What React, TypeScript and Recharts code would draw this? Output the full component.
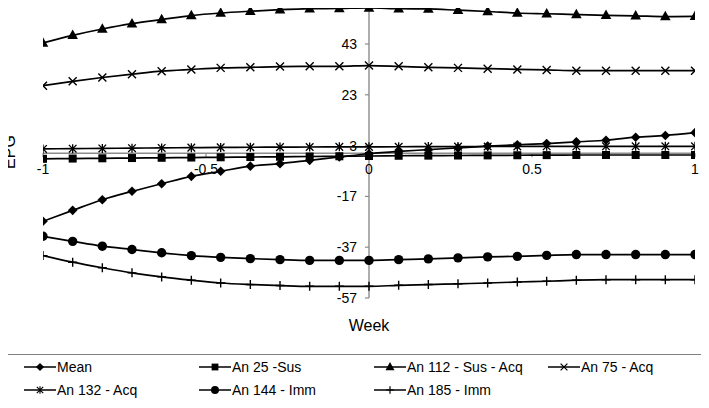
import React from 'react';
import { LineChart, Line, XAxis, YAxis, ReferenceLine, ReferenceDot } from 'recharts';

const weeks = [-1, -0.909, -0.818, -0.727, -0.636, -0.545, -0.455, -0.364, -0.273, -0.182, -0.091, 0, 0.091, 0.182, 0.273, 0.364, 0.455, 0.545, 0.636, 0.727, 0.818, 0.909, 1];

const meanVals = [-26.8, -22.5, -18.3, -15.0, -12.0, -9.1, -7.1, -5.1, -4.1, -2.8, -1.5, -0.2, 0.7, 1.4, 2.1, 2.8, 3.3, 3.8, 4.5, 5.1, 6.3, 7.0, 8.1];
const an25Vals = [-2.2, -2.1, -2.0, -1.9, -1.8, -1.7, -1.6, -1.5, -1.4, -1.3, -1.2, -1.1, -1.0, -0.95, -0.9, -0.85, -0.8, -0.75, -0.7, -0.7, -0.7, -0.7, -0.7];
const an112Vals = [43.4, 46.4, 48.9, 51.0, 52.6, 54.2, 55.2, 55.9, 56.5, 56.9, 57.0, 57.2, 56.9, 56.8, 56.3, 55.8, 55.2, 54.9, 54.6, 54.3, 54.1, 53.8, 53.9];
const an75Vals = [26.6, 28.3, 29.8, 31.1, 32.3, 33.0, 33.6, 33.8, 34.1, 34.2, 34.2, 34.5, 34.2, 33.8, 33.6, 33.3, 33.0, 32.8, 32.5, 32.5, 32.5, 32.5, 32.5];
const an132Vals = [1.7, 1.8, 1.9, 2.0, 2.1, 2.2, 2.3, 2.35, 2.4, 2.45, 2.5, 2.5, 2.55, 2.6, 2.6, 2.65, 2.65, 2.7, 2.7, 2.7, 2.7, 2.7, 2.7];
const an144Vals = [-32.7, -34.7, -36.6, -37.9, -39.2, -40.3, -41.0, -41.5, -41.9, -42.2, -42.2, -42.2, -41.9, -41.6, -41.2, -40.8, -40.6, -40.2, -39.9, -39.9, -39.9, -39.9, -39.9];
const an185Vals = [-40.3, -42.9, -45.1, -47.1, -48.7, -50.0, -51.1, -51.7, -52.1, -52.4, -52.4, -52.4, -52.0, -51.7, -51.4, -51.1, -50.7, -50.4, -50.0, -49.8, -49.8, -49.8, -49.8];

const xTicks = [-1, -0.5, 0, 0.5, 1];
const xTickLabels = ['-1', '-0.5', '0', '0.5', '1'];
const yTicks = [-57, -37, -17, 3, 23, 43, 63];
const yTickLabels = ['-57', '-37', '-17', '3', '23', '43'];

type Shape = 'diamond' | 'square' | 'triangle' | 'x' | 'star' | 'circle' | 'plus';

const seriesDefs: { key: string; name: string; shape: Shape; values: number[] }[] = [
  { key: 'mean', name: 'Mean', shape: 'diamond', values: meanVals },
  { key: 'an25', name: 'An 25 -Sus', shape: 'square', values: an25Vals },
  { key: 'an112', name: 'An 112 - Sus - Acq', shape: 'triangle', values: an112Vals },
  { key: 'an75', name: 'An 75 - Acq', shape: 'x', values: an75Vals },
  { key: 'an132', name: 'An 132 - Acq', shape: 'star', values: an132Vals },
  { key: 'an144', name: 'An 144 - Imm', shape: 'circle', values: an144Vals },
  { key: 'an185', name: 'An 185 - Imm', shape: 'plus', values: an185Vals },
];

const data = weeks.map((w, i) => {
  const row: Record<string, number> = { x: w };
  seriesDefs.forEach((s) => {
    row[s.key] = s.values[i];
  });
  return row;
});

function Marker({ shape, cx, cy }: { shape: Shape; cx: number; cy: number }) {
  const k = '#000';
  switch (shape) {
    case 'diamond':
      return <polygon points={`${cx},${cy - 4.8} ${cx + 4.8},${cy} ${cx},${cy + 4.8} ${cx - 4.8},${cy}`} fill={k} />;
    case 'square':
      return <rect x={cx - 4} y={cy - 4} width={8} height={8} fill={k} />;
    case 'triangle':
      return <polygon points={`${cx},${cy - 5.8} ${cx + 5.3},${cy + 3.7} ${cx - 5.3},${cy + 3.7}`} fill={k} />;
    case 'x':
      return <path d={`M${cx - 4},${cy - 4}L${cx + 4},${cy + 4}M${cx + 4},${cy - 4}L${cx - 4},${cy + 4}`} stroke={k} strokeWidth={1.4} fill="none" />;
    case 'star':
      return <path d={`M${cx - 3.8},${cy - 3.8}L${cx + 3.8},${cy + 3.8}M${cx + 3.8},${cy - 3.8}L${cx - 3.8},${cy + 3.8}M${cx},${cy - 4.5}V${cy + 4.5}`} stroke={k} strokeWidth={1.3} fill="none" />;
    case 'circle':
      return <circle cx={cx} cy={cy} r={4.7} fill={k} />;
    case 'plus':
      return <path d={`M${cx - 4.5},${cy}H${cx + 4.5}M${cx},${cy - 4.5}V${cy + 4.5}`} stroke={k} strokeWidth={1.4} fill="none" />;
    default:
      return null;
  }
}

const makeDot = (shape: Shape, key: string) => (props: any) => {
  const { cx, cy, index } = props;
  if (cx == null || cy == null) return <g key={`${key}-${index}`} />;
  return (
    <g key={`${key}-${index}`}>
      <Marker shape={shape} cx={cx} cy={cy} />
    </g>
  );
};

function LegendIcon({ shape }: { shape: Shape }) {
  return (
    <svg width={32} height={12} style={{ display: 'block' }}>
      <line x1={0} y1={6} x2={32} y2={6} stroke="#000" strokeWidth={1.5} />
      <g transform="translate(16,6) scale(0.85) translate(-16,-6)">
        <Marker shape={shape} cx={16} cy={6} />
      </g>
    </svg>
  );
}

const legendCols = [19, 194, 369, 543];
const legendRows = [12, 35];

const axisColor = '#8c8c8c';
const font = '"Liberation Sans", Arial, sans-serif';

export default function App() {
  return (
    <div style={{ position: 'relative', width: 709, height: 408, margin: -8, overflow: 'hidden', background: '#fff', fontFamily: font, color: '#000' }}>
      <div style={{ position: 'absolute', left: 0, top: -14 }}>
        <LineChart width={709} height={330} data={data} margin={{ top: 7.2, right: 14, bottom: 18, left: 43 }}>
          <XAxis dataKey="x" type="number" domain={[-1, 1]} ticks={xTicks} allowDataOverflow hide />
          <YAxis type="number" domain={[-57, 63]} ticks={yTicks} allowDataOverflow hide />
          <ReferenceLine x={0} stroke={axisColor} strokeWidth={1.4} />
          <ReferenceLine y={0} stroke={axisColor} strokeWidth={1.4} />
          {yTicks.map((v) => (
            <ReferenceLine key={`yt-${v}`} segment={[{ x: -0.0125, y: v }, { x: 0, y: v }]} stroke={axisColor} strokeWidth={1.2} />
          ))}
          {xTicks.map((t) => (
            <ReferenceLine key={`xt-${t}`} segment={[{ x: t, y: 0 }, { x: t, y: -1.6 }]} stroke={axisColor} strokeWidth={1.2} />
          ))}
          {yTickLabels.map((lab, i) => (
            <ReferenceDot key={`yl-${lab}`} x={0} y={yTicks[i]} r={0} fill="none" stroke="none"
              label={{ value: lab, position: 'left', offset: 12, fill: '#000', fontSize: 14 }} />
          ))}
          {xTicks.map((t, i) => (
            <ReferenceDot key={`xl-${t}`} x={t} y={0} r={0} fill="none" stroke="none"
              label={{ value: xTickLabels[i], position: 'bottom', offset: 11, fill: '#000', fontSize: 14 }} />
          ))}
          {seriesDefs.map((s) => (
            <Line key={s.key} dataKey={s.key} name={s.name} type="monotone" stroke="#000" strokeWidth={1.7}
              dot={makeDot(s.shape, s.key)} activeDot={false} isAnimationActive={false} />
          ))}
        </LineChart>
      </div>
      <svg width={709} height={408} style={{ position: 'absolute', left: 0, top: 0, pointerEvents: 'none' }}>
        <text x={369} y={331} textAnchor="middle" fontSize={16} fill="#000" fontFamily={font}>Week</text>
        <text x={15} y={152} textAnchor="middle" fontSize={16} fill="#000" fontFamily={font} transform="rotate(-90, 15, 152)">EPG</text>
      </svg>
      <div style={{ position: 'absolute', left: 4, top: 354, width: 701, height: 51, boxSizing: 'border-box', border: '1px solid #7f7f7f' }}>
        {seriesDefs.map((s, i) => (
          <div key={s.key} style={{ position: 'absolute', left: legendCols[i % 4], top: legendRows[Math.floor(i / 4)] - 9, height: 18, display: 'flex', alignItems: 'center', fontSize: 14, lineHeight: '18px', whiteSpace: 'nowrap' }}>
            <LegendIcon shape={s.shape} />
            <span style={{ marginLeft: 1 }}>{s.name}</span>
          </div>
        ))}
      </div>
    </div>
  );
}
